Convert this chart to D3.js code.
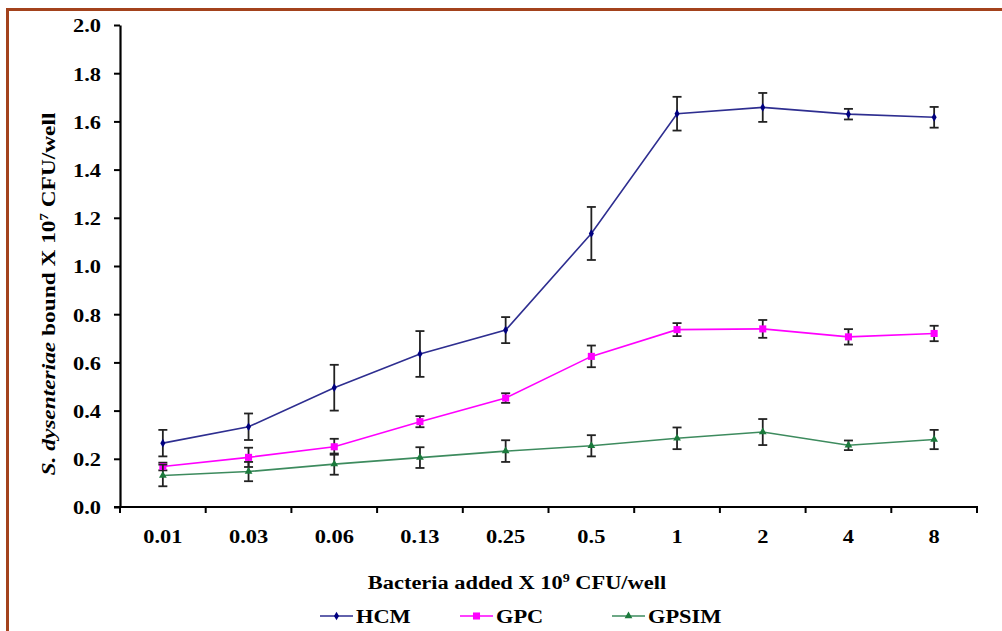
<!DOCTYPE html>
<html><head><meta charset="utf-8">
<script src="https://cdn.jsdelivr.net/npm/d3@7"></script>
<style>
html,body{margin:0;padding:0;background:#fff;}
svg text{font-family:"Liberation Serif","Times New Roman",serif;font-weight:bold;fill:#000;}
</style></head>
<body>
<svg id="chart" width="1002" height="631"></svg>
<script>
const categories = ["0.01","0.03","0.06","0.13","0.25","0.5","1","2","4","8"];
const yTicks = [0,0.2,0.4,0.6,0.8,1.0,1.2,1.4,1.6,1.8,2.0];

const hcm     = [0.265,0.333,0.495,0.635,0.734,1.135,1.632,1.658,1.630,1.617];
const hcmErr  = [0.055,0.055,0.095,0.095,0.054,0.110,0.070,0.060,0.022,0.043];
const gpc     = [0.168,0.206,0.250,0.354,0.452,0.625,0.736,0.739,0.706,0.720];
const gpcErr  = [0.016,0.040,0.033,0.023,0.020,0.045,0.027,0.037,0.032,0.032];
const gpsim   = [0.131,0.147,0.178,0.205,0.232,0.254,0.285,0.311,0.256,0.280];
const gpsimErr= [0.045,0.040,0.044,0.043,0.045,0.044,0.045,0.054,0.020,0.040];

const seriesNames = ["HCM","GPC","GPSIM"];

const svg = d3.select("#chart");
const SX = 1.18; // horizontal text stretch of the reference

// frame
svg.append("rect").attr("x",7.5).attr("y",9.5).attr("width",1100).attr("height",700)
  .attr("fill","none").attr("stroke","#a3421c").attr("stroke-width",3);

const pL = 120, pR = 977, pT = 25, pB = 507;
const x = d3.scaleBand().domain(categories).range([pL,pR]).padding(0);
const y = d3.scaleLinear().domain([0,2.0]).range([pB,pT]);
const cx = c => x(c) + x.bandwidth()/2;

// y axis
const yAxis = svg.append("g").attr("transform",`translate(${pL},0)`)
  .call(d3.axisLeft(y).tickValues(yTicks).tickSize(6).tickSizeOuter(0).tickFormat(d3.format(".1f")));
yAxis.select(".domain").attr("stroke","#000").attr("stroke-width",2.2);
yAxis.selectAll(".tick line").attr("stroke","#000").attr("stroke-width",2);
yAxis.selectAll(".tick text").attr("x",null).attr("dy","0.36em")
  .attr("transform",`translate(-19,0) scale(${SX},1)`)
  .attr("font-size",19).attr("text-anchor","end");

// x axis line and boundary ticks
const xg = svg.append("g");
xg.append("line").attr("x1",pL-6).attr("x2",pR+1).attr("y1",pB).attr("y2",pB)
  .attr("stroke","#000").attr("stroke-width",2.2);
const bounds = categories.map(c => x(c)).concat([pR]);
xg.selectAll("line.bt").data(bounds).join("line").attr("class","bt")
  .attr("x1",d=>d).attr("x2",d=>d).attr("y1",pB).attr("y2",pB+6)
  .attr("stroke","#000").attr("stroke-width",2);
xg.selectAll("text.xl").data(categories).join("text").attr("class","xl")
  .attr("transform",d=>`translate(${cx(d)},543) scale(${SX},1)`)
  .attr("text-anchor","middle").attr("font-size",19).text(d=>d);

// y title
const yt = svg.append("text").attr("transform",`translate(55,294) rotate(-90) scale(1.23,1)`)
  .attr("text-anchor","middle").attr("font-size",19);
yt.append("tspan").attr("font-style","italic").text("S. dysenteriae");
yt.append("tspan").text(" bound X 10");
yt.append("tspan").attr("font-size",12).attr("dy",-7).text("7");
yt.append("tspan").attr("dy",7).text(" CFU/well");

// x title
const xt = svg.append("text").attr("transform",`translate(517,589) scale(${SX},1)`)
  .attr("text-anchor","middle").attr("font-size",19);
xt.append("tspan").text("Bacteria added X 10");
xt.append("tspan").attr("font-size",12).attr("dy",-7).text("9");
xt.append("tspan").attr("dy",7).text(" CFU/well");

const series = [
  {name:"HCM", vals:hcm, err:hcmErr, line:"#2e2e90", mark:"#000080", sym:d3.symbolDiamond, size:22},
  {name:"GPC", vals:gpc, err:gpcErr, line:"#ff00ff", mark:"#ff00ff", sym:d3.symbolSquare, size:50},
  {name:"GPSIM", vals:gpsim, err:gpsimErr, line:"#3d8b5e", mark:"#1b7a3c", sym:d3.symbolTriangle, size:26}
];

const line = d3.line().x(d=>cx(d.c)).y(d=>y(d.v));

series.forEach(s => {
  const pts = categories.map((c,i)=>({c, v:s.vals[i], e:s.err[i]}));
  const g = svg.append("g");
  g.append("path").datum(pts).attr("d",line).attr("fill","none")
    .attr("stroke",s.line).attr("stroke-width",1.6);
  // error bars
  const eb = g.selectAll("g.eb").data(pts).join("g").attr("class","eb");
  eb.append("line").attr("x1",d=>cx(d.c)).attr("x2",d=>cx(d.c))
    .attr("y1",d=>y(d.v+d.e)).attr("y2",d=>y(d.v-d.e)).attr("stroke","#222").attr("stroke-width",1.8);
  [1,-1].forEach(sg=>{
    eb.append("line").attr("x1",d=>cx(d.c)-4.5).attr("x2",d=>cx(d.c)+4.5)
      .attr("y1",d=>y(d.v+sg*d.e)).attr("y2",d=>y(d.v+sg*d.e)).attr("stroke","#222").attr("stroke-width",1.8);
  });
  g.selectAll("path.m").data(pts).join("path").attr("class","m")
    .attr("transform",d=>`translate(${cx(d.c)},${y(d.v)})`)
    .attr("d",d3.symbol().type(s.sym).size(s.size)).attr("fill",s.mark);
});

// legend
const legX = [320, 460, 612];
const lg = svg.append("g");
series.forEach((s,i)=>{
  const lx = legX[i];
  lg.append("line").attr("x1",lx).attr("x2",lx+33).attr("y1",616).attr("y2",616)
    .attr("stroke",s.line).attr("stroke-width",1.6);
  lg.append("path").attr("transform",`translate(${lx+16.5},616)`)
    .attr("d",d3.symbol().type(s.sym).size(s.size)).attr("fill",s.mark);
  lg.append("text").attr("transform",`translate(${lx+36},623) scale(${SX},1)`)
    .attr("font-size",19).text(s.name);
});
</script>
</body></html>
